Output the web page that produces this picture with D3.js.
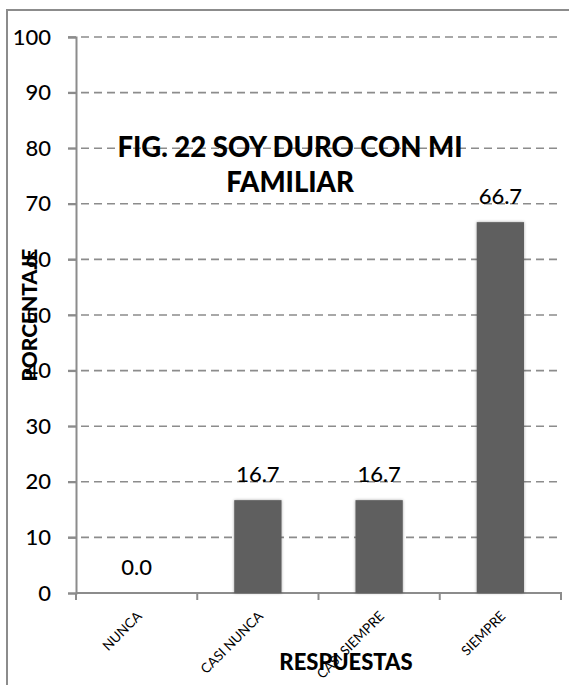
<!DOCTYPE html>
<html>
<head>
<meta charset="utf-8">
<script src="https://cdn.jsdelivr.net/npm/d3@7"></script>
<style>
  html, body { margin: 0; padding: 0; background: #fff; }
  svg { display: block; font-family: Lato, "Open Sans", sans-serif; }
</style>
</head>
<body>
<svg id="chart" width="569" height="685"></svg>
<script>
// Survey responses: "Soy duro con mi familiar"
const categories = ["NUNCA", "CASI NUNCA", "CASI SIEMPRE", "SIEMPRE"];
const percentages = [0.0, 16.7, 16.7, 66.7];
const yTicks = [0, 10, 20, 30, 40, 50, 60, 70, 80, 90, 100];
const titleLines = ["FIG. 22 SOY DURO CON MI", "FAMILIAR"];
const yTitle = "PORCENTAJE";
const xTitle = "RESPUESTAS";

const svg = d3.select("#chart");
const W = 569, H = 685;
const plot = { left: 76, right: 561, top: 37, bottom: 593 };

// outer chart frame
svg.append("rect")
  .attr("x", 7).attr("y", 10)
  .attr("width", W + 10).attr("height", H + 10)
  .attr("fill", "#fff").attr("stroke", "#8c8c8c").attr("stroke-width", 2);

const x = d3.scaleBand().domain(categories).range([plot.left, plot.right]).padding(0);
const y = d3.scaleLinear().domain([0, 100]).range([plot.bottom, plot.top]);

const defs = svg.append("defs");
const f = defs.append("filter").attr("id", "barShadow")
  .attr("x", "-20%").attr("y", "-20%").attr("width", "140%").attr("height", "140%");
f.append("feDropShadow").attr("dx", 0).attr("dy", 0).attr("stdDeviation", 1.4)
  .attr("flood-color", "#000").attr("flood-opacity", 0.35);

// dashed horizontal gridlines
svg.append("g").selectAll("line")
  .data(yTicks.filter(d => d > 0))
  .join("line")
  .attr("x1", plot.left - 8).attr("x2", plot.right + 1)
  .attr("y1", d => y(d)).attr("y2", d => y(d))
  .attr("stroke", "#8c8c8c").attr("stroke-width", 1.6)
  .attr("stroke-dasharray", "8,5");

// y axis
const yAxis = svg.append("g")
  .attr("transform", `translate(${plot.left},0)`)
  .call(d3.axisLeft(y).tickValues(yTicks).tickSize(8).tickPadding(17).tickFormat(d3.format("d")));
yAxis.select(".domain").attr("stroke", "#8c8c8c").attr("stroke-width", 2);
yAxis.selectAll(".tick line").attr("stroke", "#8c8c8c").attr("stroke-width", 2);
yAxis.selectAll(".tick text")
  .attr("font-family", "Lato, sans-serif").attr("font-size", 22)
  .attr("font-weight", 500).attr("fill", "#000");

// x axis with ticks on category boundaries
const xAxisG = svg.append("g").attr("transform", `translate(0,${plot.bottom})`);
xAxisG.append("line")
  .attr("x1", plot.left).attr("x2", plot.right + 1)
  .attr("stroke", "#8c8c8c").attr("stroke-width", 2);
const boundaries = categories.map(c => x(c)).concat([x(categories[categories.length - 1]) + x.bandwidth()]);
xAxisG.selectAll("line.tk").data(boundaries).join("line")
  .attr("class", "tk")
  .attr("x1", d => d).attr("x2", d => d)
  .attr("y1", 0).attr("y2", 7)
  .attr("stroke", "#8c8c8c").attr("stroke-width", 2);

// category labels, rotated
svg.append("g").selectAll("text")
  .data(categories)
  .join("text")
  .attr("transform", d => `translate(${x(d) + x.bandwidth() / 2 + 6},${plot.bottom + 24}) rotate(-45)`)
  .attr("text-anchor", "end")
  .attr("font-size", 13.5)
  .attr("fill", "#000")
  .text(d => d);

// bars
const barW = x.bandwidth() * 0.39;
svg.append("g").selectAll("rect")
  .data(categories.map((c, i) => ({ c, v: percentages[i] })))
  .join("rect")
  .attr("x", d => x(d.c) + (x.bandwidth() - barW) / 2)
  .attr("y", d => y(d.v))
  .attr("width", barW)
  .attr("height", d => y(0) - y(d.v))
  .attr("fill", "#5f5f5f")
  .attr("filter", d => d.v > 0 ? "url(#barShadow)" : null);

// value labels
svg.append("g").selectAll("text")
  .data(categories.map((c, i) => ({ c, v: percentages[i] })))
  .join("text")
  .attr("x", d => x(d.c) + x.bandwidth() / 2)
  .attr("y", d => y(d.v) - 18)
  .attr("text-anchor", "middle")
  .attr("font-size", 22)
  .attr("font-weight", 500)
  .attr("fill", "#000")
  .text(d => d3.format(".1f")(d.v));

// chart title
svg.append("g").selectAll("text")
  .data(titleLines)
  .join("text")
  .attr("x", 290)
  .attr("y", (d, i) => 157 + i * 35)
  .attr("text-anchor", "middle")
  .attr("font-weight", 900)
  .attr("font-size", 27.5)
  .attr("fill", "#000")
  .text(d => d);

// axis titles
svg.append("text")
  .attr("transform", "translate(37,315) rotate(-90)")
  .attr("text-anchor", "middle")
  .attr("font-weight", 900)
  .attr("font-size", 21)
  .attr("fill", "#000")
  .text(yTitle);

svg.append("text")
  .attr("x", 346).attr("y", 670)
  .attr("text-anchor", "middle")
  .attr("font-weight", 900)
  .attr("font-size", 22)
  .attr("fill", "#000")
  .text(xTitle);
</script>
</body>
</html>
